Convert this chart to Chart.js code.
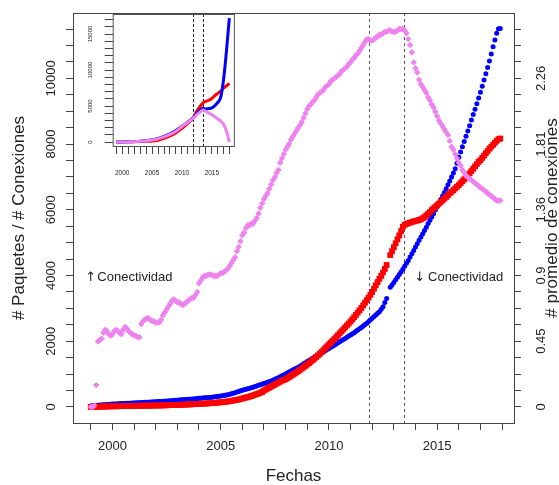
<!DOCTYPE html>
<html>
<head>
<meta charset="utf-8">
<script src="https://cdn.jsdelivr.net/npm/chart.js@4.4.1/dist/chart.umd.min.js"></script>
<style>
  html, body { margin: 0; padding: 0; background: #fff; }
  #wrap { position: relative; width: 559px; height: 485px; }
  #principal { position: absolute; left: 0; top: 0; }
  #recuadro { position: absolute; left: 80px; top: 6px; }
</style>
</head>
<body>
<div id="wrap">
  <canvas id="principal" width="559" height="485"></canvas>
  <canvas id="recuadro" width="165" height="180"></canvas>
</div>
<script>
// datos mensuales, desde enero de 1999
const inicio = 1999;

// # paquetes (azul)
const azul = [
  30, 35, 40, 45, 50, 55, 60, 64, 68, 72, 76, 80,
  85, 88, 91, 94, 97, 100, 102, 105, 108, 111, 114, 117,
  120, 123, 126, 129, 132, 135, 138, 141, 144, 148, 151, 155,
  158, 161, 164, 167, 170, 174, 178, 182, 186, 191, 196, 200,
  205, 210, 214, 218, 222, 226, 230, 234, 238, 243, 248, 254,
  260, 265, 270, 275, 280, 285, 290, 295, 300, 308, 315, 322,
  330, 340, 350, 360, 370, 385, 400, 415, 430, 450, 470, 490,
  510, 525, 540, 555, 570, 585, 600, 620, 640, 660, 675, 695,
  710, 730, 750, 770, 790, 815, 840, 865, 890, 915, 945, 970,
  1000, 1030, 1060, 1090, 1120, 1150, 1180, 1210, 1240, 1275, 1310, 1345,
  1385, 1415, 1450, 1480, 1515, 1545, 1580, 1610, 1645, 1680, 1710, 1745,
  1780, 1815, 1850, 1880, 1915, 1950, 1985, 2020, 2050, 2085, 2120, 2155,
  2190, 2225, 2260, 2300, 2340, 2380, 2420, 2460, 2505, 2550, 2600, 2650,
  2700, 2750, 2800, 2850, 2900, 2970, 3050, 3180, 3300, null, 3640, 3710,
  3790, 3870, 3950, 4030, 4110, 4190, 4280, 4370, 4460, 4560, 4660, 4760,
  4870, 4970, 5070, 5170, 5270, 5370, 5470, 5580, 5680, 5780, 5880, 5990,
  6090, 6200, 6310, 6420, 6530, 6640, 6760, 6880, 7000, 7120, 7250, 7420,
  7600, 7760, 7920, 8080, 8240, 8400, 8560, 8730, 8900, 9060, 9230, 9400,
  9580, 9760, 9950, 10140, 10330, 10530, 10740, 10960, 11170, 11370, 11510, 11520
];

// # conexiones (rojo)
const rojo = [
  0, 2, 4, 5, 7, 8, 10, 11, 12, 14, 15, 17,
  18, 19, 20, 21, 22, 24, 25, 26, 27, 28, 29, 30,
  31, 32, 33, 34, 35, 36, 37, 38, 39, 40, 41, 42,
  43, 44, 45, 46, 47, 48, 50, 52, 54, 56, 58, 60,
  62, 64, 66, 68, 70, 72, 74, 77, 80, 83, 86, 89,
  92, 95, 98, 101, 104, 108, 112, 116, 120, 125, 130, 135,
  140, 145, 150, 158, 166, 175, 185, 195, 205, 215, 225, 240,
  255, 270, 285, 300, 315, 330, 350, 370, 390, 410, 430, 455,
  500, 530, 560, 590, 620, 650, 680, 710, 740, 770, 800, 820,
  840, 875, 910, 945, 980, 1015, 1050, 1090, 1130, 1170, 1210, 1250,
  1290, 1335, 1380, 1425, 1470, 1520, 1570, 1620, 1670, 1730, 1790, 1845,
  1900, 1955, 2010, 2065, 2120, 2180, 2240, 2300, 2360, 2420, 2480, 2540,
  2600, 2665, 2730, 2800, 2870, 2940, 3010, 3090, 3170, 3250, 3330, 3410,
  3500, 3600, 3700, 3800, 3900, 3990, 4090, 4200, 4320, null, 4620, 4740,
  4860, 4980, 5100, 5220, 5350, 5480, 5540, 5570, 5590, 5610, 5630, 5645,
  5660, 5675, 5690, 5710, 5740, 5780, 5830, 5880, 5930, 5990, 6040, 6090,
  6140, 6190, 6240, 6290, 6340, 6390, 6440, 6500, 6550, 6600, 6650, 6700,
  6750, 6810, 6870, 6930, 6990, 7050, 7110, 7180, 7250, 7320, 7390, 7460,
  7510, 7580, 7650, 7720, 7790, 7860, 7920, 7980, 8040, 8100, 8150, 8170
];

// # promedio de conexiones (violeta, eje derecho)
const violeta = [
  0.00, 0.00, 0.01, 0.15, 0.45, 0.46, 0.47, 0.51, 0.53, 0.52, 0.50, 0.49,
  0.50, 0.52, 0.53, 0.52, 0.51, 0.50, 0.53, 0.55, 0.54, 0.52, 0.51, 0.50,
  0.49, 0.49, 0.48, 0.48, 0.57, 0.59, 0.60, 0.61, 0.61, 0.60, 0.59, 0.59,
  0.58, 0.58, 0.58, 0.60, 0.63, 0.65, 0.67, 0.69, 0.71, 0.73, 0.74, 0.73,
  0.72, 0.72, 0.71, 0.70, 0.71, 0.72, 0.73, 0.74, 0.75, 0.75, 0.77, 0.79,
  0.85, 0.87, 0.89, 0.90, 0.90, 0.91, 0.91, 0.91, 0.90, 0.90, 0.90, 0.91,
  0.92, 0.92, 0.93, 0.94, 0.95, 0.97, 0.99, 1.01, 1.03, 1.07, 1.10, 1.14,
  1.18, 1.20, 1.23, 1.25, 1.25, 1.26, 1.26, 1.28, 1.30, 1.33, 1.37, 1.40,
  1.43, 1.45, 1.47, 1.50, 1.53, 1.56, 1.58, 1.61, 1.63, 1.68, 1.71, 1.74,
  1.77, 1.79, 1.81, 1.84, 1.86, 1.88, 1.90, 1.92, 1.94, 1.96, 1.99, 2.02,
  2.05, 2.07, 2.08, 2.10, 2.11, 2.13, 2.15, 2.16, 2.17, 2.18, 2.20, 2.21,
  2.22, 2.24, 2.25, 2.26, 2.27, 2.28, 2.29, 2.31, 2.32, 2.33, 2.34, 2.36,
  2.37, 2.39, 2.40, 2.42, 2.43, 2.45, 2.47, 2.49, 2.51, 2.53, 2.53, 2.52,
  2.52, 2.53, 2.54, 2.55, 2.56, 2.56, 2.57, 2.58, 2.58, 2.59, 2.59, 2.58,
  2.58, 2.58, 2.59, 2.60, 2.60, 2.60, 2.59, 2.57, 2.53, 2.49, 2.44, 2.37,
  2.33, 2.30, 2.25, 2.22, 2.20, 2.18, 2.16, 2.13, 2.11, 2.08, 2.06, 2.03,
  2.00, 1.97, 1.95, 1.93, 1.91, 1.89, 1.87, 1.83, 1.79, 1.77, 1.74, 1.71,
  1.68, 1.66, 1.63, 1.61, 1.59, 1.58, 1.57, 1.56, 1.55, 1.54, 1.53, 1.52,
  1.51, 1.50, 1.49, 1.48, 1.47, 1.46, 1.45, 1.44, 1.43, 1.42, 1.42, 1.42
];

// fechas de las lineas de corte
const cortes = [2011.87, 2013.47];

// etiquetas de los ejes
const aniosEtiqueta = [2000, 2005, 2010, 2015];
const yEtiquetas = [0, 2000, 4000, 6000, 8000, 10000];
const promEtiquetas = ['0', '0.45', '0.9', '1.36', '1.81', '2.26'];
const escala = 2.26 / 10000;

// grafico pequeño
const insetFechas = [1999, 2000, 2001, 2002, 2003, 2004, 2005, 2006, 2007, 2008, 2009, 2010, 2011,
  2012, 2012.5, 2013, 2013.5, 2014, 2014.5, 2015, 2015.5, 2016, 2016.5, 2017, 2017.5, 2017.92];
const insetAzul = [0, 10, 30, 65, 120, 200, 320, 510, 790, 1130, 1580, 2180, 2800,
  3420, 3950, 4400, 4680, 4600, 4650, 4750, 5050, 5500, 6300, 9000, 13200, 17200];
const insetRojo = [0, 18, 31, 43, 62, 92, 140, 255, 500, 840, 1290, 1900, 2600,
  3500, 4300, 4900, 5450, 5650, 5800, 6050, 6450, 6750, 7100, 7500, 7850, 8150];
const insetVioleta = [0, 0, 20, 50, 100, 170, 280, 460, 720, 1050, 1500, 2150, 2750,
  3380, 3800, 4150, 4430, 4250, 4020, 3780, 3500, 3200, 2900, 2400, 1350, 0];
const insetYEtiquetas = [0, 5000, 10000, 15000];

const FUENTE = "'Liberation Sans', Arial, sans-serif";

const meses = azul.map((_, i) => inicio + i / 12);
const puntos = serie => serie.map((v, i) => ({ x: meses[i], y: v }));
const aniosTicks = Array.from({ length: 20 }, (_, i) => 1999 + i);
const yTicks = Array.from({ length: 24 }, (_, i) => i * 500);

function textoVertical(ctx, txt, x, y, size, base) {
  ctx.save();
  ctx.translate(x, y);
  ctx.rotate(-Math.PI / 2);
  ctx.font = size + 'px ' + FUENTE;
  ctx.textAlign = 'center';
  ctx.textBaseline = base;
  ctx.fillText(txt, 0, 0);
  ctx.restore();
}

function lineasCorte(chart, color, dash) {
  const { ctx, chartArea: a, scales: { x } } = chart;
  ctx.save();
  ctx.strokeStyle = color;
  ctx.lineWidth = 1;
  ctx.setLineDash(dash);
  cortes.forEach(c => {
    const px = Math.round(x.getPixelForValue(c)) + 0.5;
    ctx.beginPath();
    ctx.moveTo(px, a.top);
    ctx.lineTo(px, a.bottom);
    ctx.stroke();
  });
  ctx.restore();
}

const marcoR = {
  id: 'marcoR',
  beforeDatasetsDraw(chart) {
    lineasCorte(chart, '#555', [3, 3]);
  },
  afterDraw(chart) {
    const { ctx, chartArea: a, scales: { x, y, y2 } } = chart;
    ctx.save();
    ctx.strokeStyle = '#444';
    ctx.lineWidth = 1;
    ctx.strokeRect(a.left + 0.5, a.top + 0.5, a.right - a.left, a.bottom - a.top);
    ctx.fillStyle = '#222';
    yEtiquetas.forEach(v => textoVertical(ctx, String(v), 51, y.getPixelForValue(v), 13, 'middle'));
    promEtiquetas.forEach((t, i) =>
      textoVertical(ctx, t, 541, y2.getPixelForValue(yEtiquetas[i] * escala), 13, 'middle'));
    const cy = (a.top + a.bottom) / 2;
    textoVertical(ctx, '# Paquetes / # Conexiones', 23.5, cy, 17, 'alphabetic');
    textoVertical(ctx, '# promedio de conexiones', 557, cy, 17, 'alphabetic');
    ctx.font = '17px ' + FUENTE;
    ctx.textAlign = 'center';
    ctx.textBaseline = 'middle';
    ctx.fillText('Fechas', (a.left + a.right) / 2, 476);
    const yTexto = y.getPixelForValue(3950);
    ctx.font = "13px 'DejaVu Sans', " + FUENTE;
    ctx.textAlign = 'left';
    ctx.fillText('↑', x.getPixelForValue(1998.75), yTexto);
    ctx.font = '13px ' + FUENTE;
    ctx.fillText('Conectividad', x.getPixelForValue(1998.75) + 12, yTexto);
    ctx.textAlign = 'right';
    const finDer = x.getPixelForValue(2018.05);
    ctx.fillText('Conectividad', finDer, yTexto);
    const anchoC = ctx.measureText('Conectividad').width;
    ctx.font = "13px 'DejaVu Sans', " + FUENTE;
    ctx.fillText('↓', finDer - anchoC - 3, yTexto);
    ctx.restore();
  }
};

const yMin = -490, yMax = 11990;
const ejeTicks = { drawOnChartArea: false, tickLength: 7, color: '#444' };

new Chart(document.getElementById('principal'), {
  type: 'scatter',
  data: {
    datasets: [
      { label: 'promedio', data: puntos(violeta), yAxisID: 'y2', backgroundColor: '#ee82ee',
        pointStyle: 'rectRot', pointRadius: 3.2, borderWidth: 0, order: 0 },
      { label: 'conexiones', data: puntos(rojo), yAxisID: 'y', backgroundColor: '#ff0000',
        pointStyle: 'rect', pointRadius: 4.1, borderWidth: 0, order: 1 },
      { label: 'paquetes', data: puntos(azul), yAxisID: 'y', backgroundColor: '#0000ff',
        pointStyle: 'circle', pointRadius: 2.5, borderWidth: 0, order: 2 }
    ]
  },
  options: {
    responsive: false,
    animation: false,
    devicePixelRatio: 1,
    layout: { padding: { top: 13, left: 0, right: 0, bottom: 0 } },
    plugins: { legend: { display: false }, tooltip: { enabled: false } },
    scales: {
      x: {
        type: 'linear', min: 1998.18, max: 2018.55,
        afterBuildTicks: s => { s.ticks = aniosTicks.map(v => ({ value: v })); },
        afterFit: s => { s.height = 62; },
        grid: ejeTicks,
        border: { display: false },
        ticks: {
          autoSkip: false, maxRotation: 0, padding: 9, color: '#222',
          font: { family: FUENTE, size: 13 },
          callback: v => aniosEtiqueta.includes(v) ? String(v) : ''
        }
      },
      y: {
        position: 'left', min: yMin, max: yMax,
        afterBuildTicks: s => { s.ticks = yTicks.map(v => ({ value: v })); },
        afterFit: s => { s.width = 73; },
        grid: ejeTicks,
        border: { display: false },
        ticks: { display: false }
      },
      y2: {
        position: 'right', min: yMin * escala, max: yMax * escala,
        afterBuildTicks: s => { s.ticks = yTicks.map(v => ({ value: v * escala })); },
        afterFit: s => { s.width = 45; },
        grid: ejeTicks,
        border: { display: false },
        ticks: { display: false }
      }
    }
  },
  plugins: [marcoR]
});

const recuadroR = {
  id: 'recuadroR',
  beforeDraw(chart) {
    const { ctx, chartArea: a } = chart;
    ctx.save();
    ctx.fillStyle = '#fff';
    ctx.fillRect(a.left, a.top, a.right - a.left, a.bottom - a.top);
    ctx.restore();
  },
  beforeDatasetsDraw(chart) {
    lineasCorte(chart, '#222', [3, 2]);
  },
  afterDraw(chart) {
    const { ctx, chartArea: a, scales: { y } } = chart;
    ctx.save();
    ctx.strokeStyle = '#555';
    ctx.lineWidth = 1;
    ctx.strokeRect(a.left + 0.5, a.top + 0.5, a.right - a.left, a.bottom - a.top);
    ctx.fillStyle = '#222';
    insetYEtiquetas.forEach(v => textoVertical(ctx, String(v), 10, y.getPixelForValue(v), 6, 'middle'));
    ctx.restore();
  }
};

const linea = (serie, color, orden) => ({
  data: insetFechas.map((f, i) => ({ x: f, y: serie[i] })),
  borderColor: color, order: orden
});

new Chart(document.getElementById('recuadro'), {
  type: 'line',
  data: {
    datasets: [
      linea(insetVioleta, '#ee82ee', 0),
      linea(insetAzul, '#0000ff', 1),
      linea(insetRojo, '#ff0000', 2)
    ]
  },
  options: {
    responsive: false,
    animation: false,
    devicePixelRatio: 1,
    layout: { padding: { top: 8, right: 5.7, left: 0, bottom: 0 } },
    elements: {
      point: { radius: 0 },
      line: { borderWidth: 3, cubicInterpolationMode: 'monotone' }
    },
    plugins: { legend: { display: false }, tooltip: { enabled: false } },
    scales: {
      x: {
        type: 'linear', min: 1998.42, max: 2018.68,
        afterBuildTicks: s => { s.ticks = aniosTicks.map(v => ({ value: v })); },
        afterFit: s => { s.height = 40; },
        grid: { drawOnChartArea: false, tickLength: 8, color: '#444' },
        border: { display: false },
        ticks: {
          autoSkip: false, maxRotation: 0, padding: 15, color: '#222',
          font: { family: FUENTE, size: 6.5 },
          callback: v => aniosEtiqueta.includes(v) ? String(v) : ''
        }
      },
      y: {
        min: -555, max: 17780,
        afterBuildTicks: s => { s.ticks = Array.from({ length: 18 }, (_, i) => ({ value: i * 1000 })); },
        afterFit: s => { s.width = 32.7; },
        grid: { drawOnChartArea: false, tickLength: 8, color: '#444' },
        border: { display: false },
        ticks: { display: false }
      }
    }
  },
  plugins: [recuadroR]
});
</script>
</body>
</html>
